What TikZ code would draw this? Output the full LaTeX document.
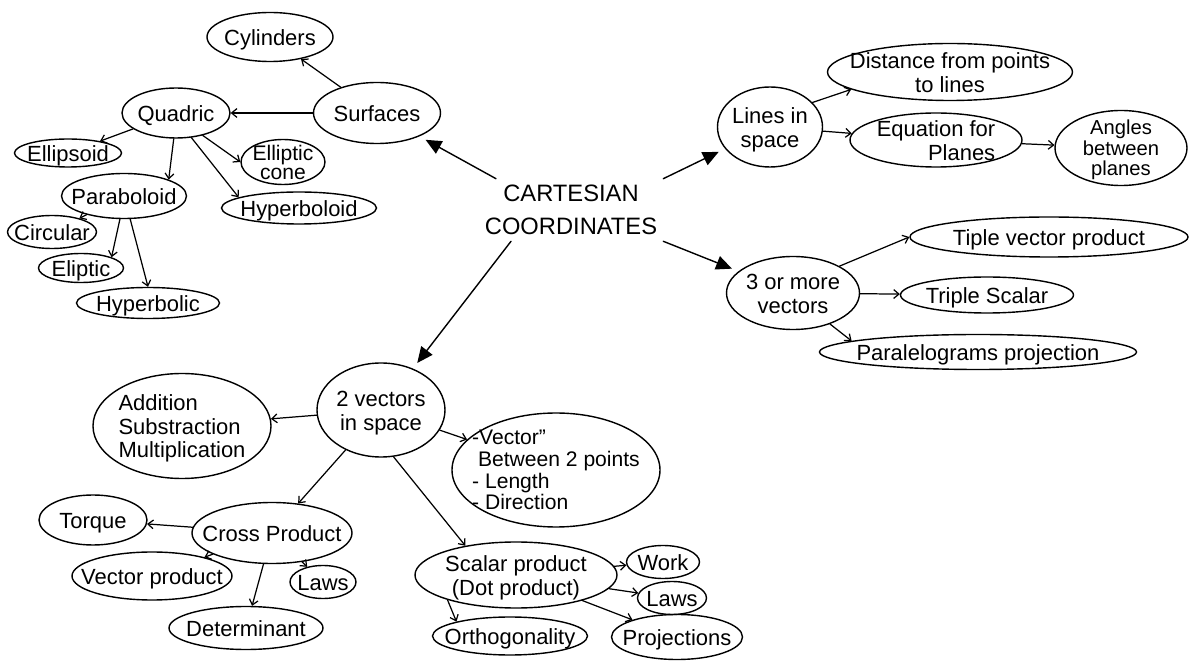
\documentclass[tikz,border=0pt]{standalone}
\usepackage{fontspec}
\setmainfont{Liberation Sans}
\usetikzlibrary{shapes.geometric}
\usetikzlibrary{arrows.meta}

\newcommand{\ovaltext}[2][c]{\smash{\makebox[0pt]{\raisebox{-0.4em}{\begin{tabular}{@{}#1@{}}#2\end{tabular}}}}}

\tikzset{
  bubble/.style={draw, ellipse, inner sep=0pt, line width=0.8pt},
  wh/.style 2 args={minimum width=#1*0.02cm, minimum height=#2*0.02cm},
  link/.style={-{Straight Barb[length=3pt,width=5pt]}, line width=0.7pt},
  mainlink/.style={-{Triangle[length=9pt,width=8pt]}, line width=0.8pt, shorten >=4pt}
}

\begin{document}
\begin{tikzpicture}[x=0.02cm, y=-0.02cm, font=\fontsize{12.5}{13.5}\selectfont, line cap=round]
  \useasboundingbox (0,0) rectangle (1191,665);

  \node[font=\fontsize{13.5}{19}\selectfont, align=center] (cc) at (571,210) {CARTESIAN\\COORDINATES};

  % surfaces
  \node[bubble, wh={126}{49}] (cyl) at (270,37) {\ovaltext{Cylinders}};
  \node[bubble, wh={127}{61}] (surf) at (377,113) {\ovaltext{Surfaces}};
  \node[bubble, wh={108}{50}] (quad) at (176,113) {\ovaltext{Quadric}};
  \node[bubble, wh={107}{28}] (ellps) at (68,153) {\ovaltext{Ellipsoid}};
  \node[bubble, wh={84}{45}, font=\fontsize{12}{11}\selectfont] (econe) at (283,162) {\ovaltext{Elliptic\\cone}};
  \node[bubble, wh={125}{45}] (parab) at (124,196) {\ovaltext{Paraboloid}};
  \node[bubble, wh={155}{32}] (hypd) at (299,208) {\ovaltext{Hyperboloid}};
  \node[bubble, wh={89}{33}] (circ) at (52,232) {\ovaltext{Circular}};
  \node[bubble, wh={85}{29}] (elip) at (81,268) {\ovaltext{Eliptic}};
  \node[bubble, wh={143}{31}] (hypb) at (148,303) {\ovaltext{Hyperbolic}};

  % lines and planes
  \node[bubble, wh={105}{80}] (lines) at (770,127) {\ovaltext{Lines in\\space}};
  \node[bubble, wh={245}{57}] (dist) at (950,72) {\ovaltext{Distance from points\\to lines}};
  \node[bubble, wh={172}{54}] (eqn) at (936,140) {\ovaltext[r]{Equation for\\Planes}};
  \node[bubble, wh={132}{75}, font=\fontsize{11.5}{11.5}\selectfont] (angl) at (1121,148) {\ovaltext{Angles\\between\\planes}};

  % three vectors
  \node[bubble, wh={133}{73}] (three) at (793,293) {\ovaltext{3 or more\\vectors}};
  \node[bubble, wh={278}{40}] (tvp) at (1049,237) {\ovaltext{Tiple vector product}};
  \node[bubble, wh={173}{36}] (tsc) at (987,295) {\ovaltext{Triple Scalar}};
  \node[bubble, wh={317}{35}] (para) at (978,352) {\ovaltext{Paralelograms projection}};

  % two vectors
  \node[bubble, wh={128}{94}] (two) at (381,410) {\ovaltext{2 vectors\\in space}};
  \node[bubble, wh={178}{105}] (addsub) at (182,426) {\ovaltext[l]{Addition\\Substraction\\Multiplication}};
  \node[bubble, wh={208}{114}, font=\fontsize{12}{12}\selectfont] (vecbet) at (556,470) {\ovaltext[l]{-Vector"\\\ Between 2 points\\- Length\\- Direction}};
  \node[bubble, wh={160}{61}] (cross) at (272,533) {\ovaltext{Cross Product}};
  \node[bubble, wh={108}{50}] (torq) at (93,520) {\ovaltext{Torque}};
  \node[bubble, wh={160}{48}] (vprod) at (152,576) {\ovaltext{Vector product}};
  \node[bubble, wh={66}{33}] (lawsc) at (323,582) {\ovaltext{Laws}};
  \node[bubble, wh={154}{43}] (det) at (246,628) {\ovaltext{Determinant}};
  \node[bubble, wh={202}{66}] (scal) at (516,575) {\ovaltext{Scalar product\\(Dot product)}};
  \node[bubble, wh={73}{33}] (work) at (663,562) {\ovaltext{Work}};
  \node[bubble, wh={69}{33}] (lawsd) at (672,598) {\ovaltext{Laws}};
  \node[bubble, wh={155}{38}] (orth) at (510,636) {\ovaltext{Orthogonality}};
  \node[bubble, wh={131}{45}] (proj) at (677,637) {\ovaltext{Projections}};

  \draw[mainlink] ([xshift=-1.5cm]cc.north) -- (surf);
  \draw[mainlink] (cc.north east) -- (lines);
  \draw[mainlink] (cc.south east) -- (three);
  \draw[mainlink] ([xshift=-1.2cm]cc.south) -- (two);

  \draw[link] (surf) -- (cyl);
  \draw[link] (surf) -- (quad);
  \draw[link] (quad) -- (ellps);
  \draw[link] (quad.-95) -- (parab.north east);
  \draw[link] (quad.-40) -- (econe.west);
  \draw[link] (quad.-58) -- (hypd.170);
  \draw[link] (parab) -- (circ);
  \draw[link] (parab.-100) -- (elip.north east);
  \draw[link] (parab.-75) -- (hypb.north);

  \draw[link] (lines.30) -- (dist.190);
  \draw[link] (lines) -- (eqn);
  \draw[link] (eqn) -- (angl);
  \draw[link] (three.30) -- (tvp.west);
  \draw[link] (three) -- (tsc);
  \draw[link] (three.-40) -- (para.175);

  \draw[link] (two) -- (addsub);
  \draw[link] (two) -- (vecbet);
  \draw[link] (two) -- (cross);
  \draw[link] (two.-75) -- (scal.150);
  \draw[link] (cross) -- (torq);
  \draw[link] (cross) -- (vprod);
  \draw[link] (cross) -- (det);
  \draw[link] (cross) -- (lawsc);
  \draw[link] (scal) -- (work);
  \draw[link] (scal) -- (lawsd);
  \draw[link] (scal.-160) -- (orth.165);
  \draw[link] (scal) -- (proj);
\end{tikzpicture}
\end{document}
